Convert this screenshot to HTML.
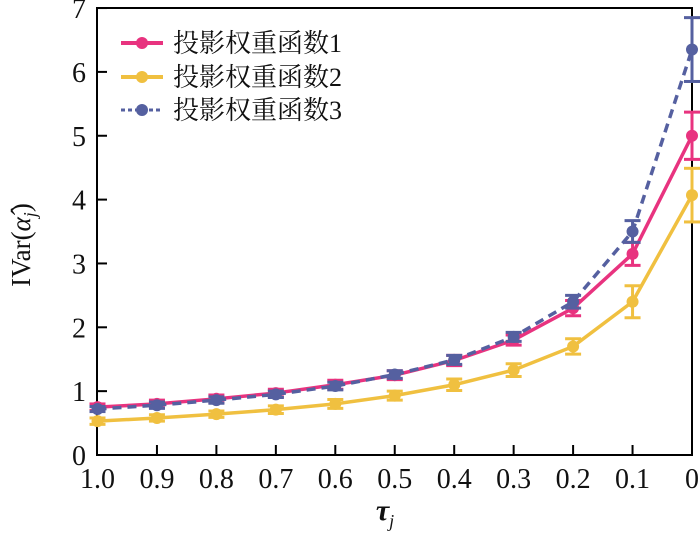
<!DOCTYPE html>
<html><head><meta charset="utf-8"><style>
body{margin:0;background:#fff;width:700px;height:540px;overflow:hidden}
svg text{font-family:"Liberation Serif","Noto Serif CJK SC",serif;fill:#111}
</style></head><body>
<svg id="s" width="700" height="540" xmlns="http://www.w3.org/2000/svg">
<rect x="97" y="8" width="595" height="447" fill="none" stroke="#000" stroke-width="2"/>
<g id="ax"></g>
<g id="data"></g>
<g font-size="26">
<text x="173" y="52">投影权重函数1</text>
<text x="173" y="86">投影权重函数2</text>
<text x="173" y="119">投影权重函数3</text>
</g>
<line x1="121" y1="43" x2="163" y2="43" stroke="#e8337f" stroke-width="4"/><circle cx="142" cy="43" r="6" fill="#e8337f"/>
<line x1="121" y1="77" x2="163" y2="77" stroke="#f0c040" stroke-width="4"/><circle cx="142" cy="77" r="6" fill="#f0c040"/>
<line x1="121" y1="110" x2="163" y2="110" stroke="#5560a0" stroke-width="3" stroke-dasharray="4,3"/><circle cx="142" cy="110" r="6" fill="#5560a0"/>
<text x="385" y="520" font-size="30" font-style="italic" font-weight="bold" text-anchor="middle">τ<tspan font-size="18" dy="7" font-weight="normal">j</tspan></text>
<text transform="translate(30,245) rotate(-90)" font-size="27" text-anchor="middle">IVar(<tspan font-style="italic">α̂</tspan><tspan font-size="18" font-style="italic" dy="6">j</tspan><tspan dy="-6">)</tspan></text>
</svg>
<script>
var X=v=>97.5+(1-v)*594.5, Y=v=>455-v*63.85;
var ax=document.getElementById('ax'),d=document.getElementById('data'),h='';
for(var i=0;i<=7;i++){h+='<line x1="97" x2="107" y1="'+Y(i)+'" y2="'+Y(i)+'" stroke="#000" stroke-width="2"/><text x="86" y="'+(Y(i)+10)+'" font-size="28" text-anchor="end">'+i+'</text>';}
var xl=['1.0','0.9','0.8','0.7','0.6','0.5','0.4','0.3','0.2','0.1','0'];
for(i=0;i<=10;i++){var x=X(1-i/10);if(i>0&&i<10)h+='<line x1="'+x+'" x2="'+x+'" y1="455" y2="445" stroke="#000" stroke-width="2"/>';h+='<text x="'+x+'" y="488" font-size="28" text-anchor="middle">'+xl[i]+'</text>';}
ax.innerHTML=h;
var S=[
{c:'#f0c040',v:[0.53,0.58,0.64,0.71,0.80,0.93,1.10,1.33,1.70,2.40,4.07],e:[.05,.05,.05,.06,.07,.07,.09,.1,.12,.25,.42],da:''},
{c:'#e8337f',v:[0.75,0.80,0.88,0.97,1.10,1.25,1.48,1.80,2.30,3.15,5.0],e:[.05,.06,.06,.06,.07,.07,.08,.08,.12,.18,.37],da:''},
{c:'#5560a0',v:[0.72,0.78,0.86,0.95,1.08,1.26,1.49,1.85,2.40,3.50,6.35],e:[.04,.05,.05,.05,.06,.06,.07,.07,.1,.17,.5],da:'9,6'}];
h='';
S.forEach(function(s){var p=s.v.map((v,i)=>X(1-i/10)+','+Y(v)).join(' ');
h+='<polyline points="'+p+'" fill="none" stroke="'+s.c+'" stroke-width="3.5" '+(s.da?'stroke-dasharray="'+s.da+'"':'')+'/>';
s.v.forEach(function(v,i){var x=X(1-i/10),a=Y(v+s.e[i]),b=Y(v-s.e[i]);
h+='<line x1="'+x+'" x2="'+x+'" y1="'+a+'" y2="'+b+'" stroke="'+s.c+'" stroke-width="3"/><line x1="'+(x-8)+'" x2="'+(x+8)+'" y1="'+a+'" y2="'+a+'" stroke="'+s.c+'" stroke-width="3"/><line x1="'+(x-8)+'" x2="'+(x+8)+'" y1="'+b+'" y2="'+b+'" stroke="'+s.c+'" stroke-width="3"/><circle cx="'+x+'" cy="'+Y(v)+'" r="6" fill="'+s.c+'"/>';});});
d.innerHTML=h;
</script>
</body></html>
